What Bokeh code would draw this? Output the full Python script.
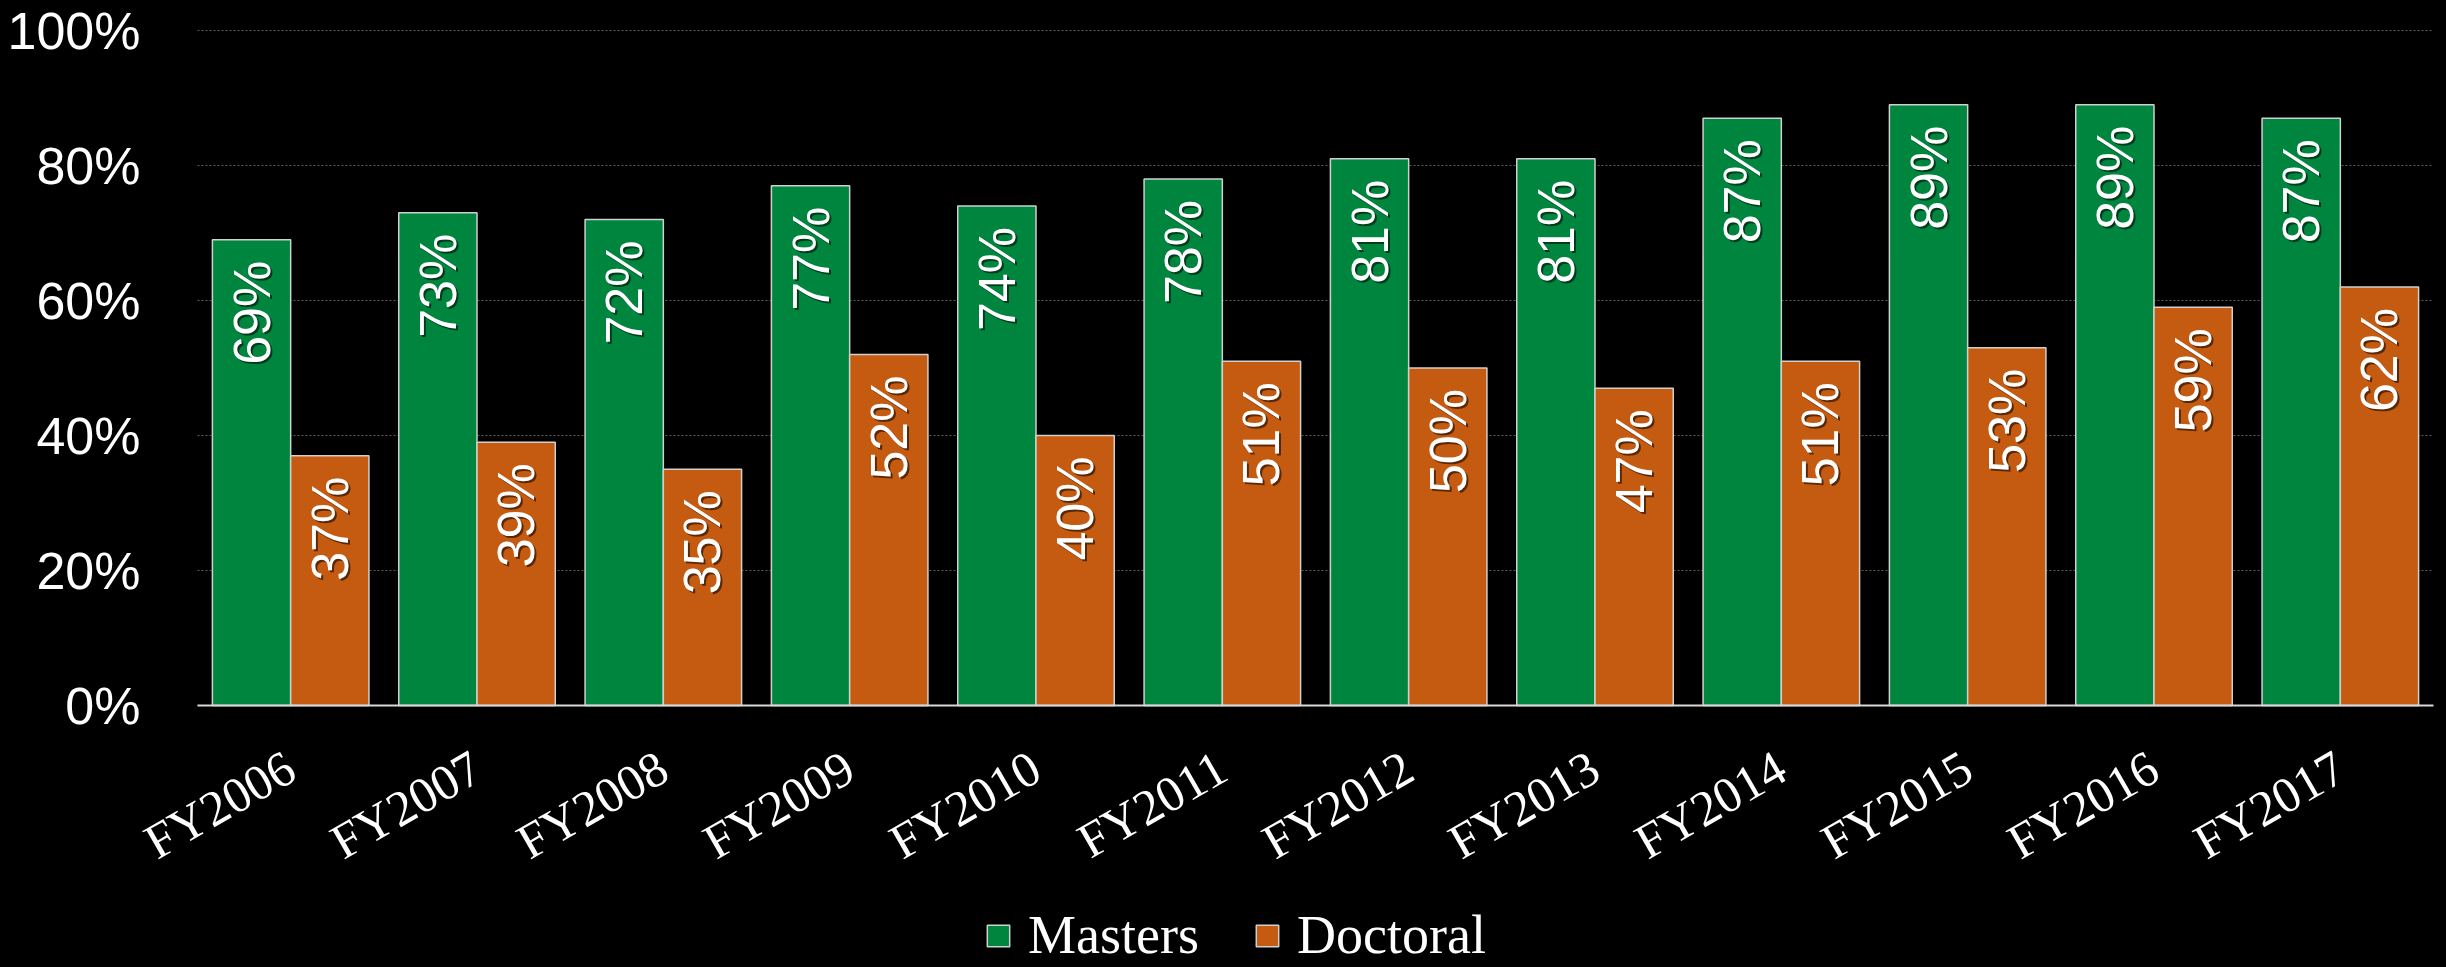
import math
from bokeh.plotting import figure
from bokeh.models import (ColumnDataSource, Range1d, Legend, LegendItem,
                          PrintfTickFormatter, FixedTicker)
from bokeh.transform import dodge
from bokeh.core.properties import value
from bokeh.embed import file_html
from bokeh.resources import INLINE

years = ["FY2006", "FY2007", "FY2008", "FY2009", "FY2010", "FY2011",
         "FY2012", "FY2013", "FY2014", "FY2015", "FY2016", "FY2017"]
masters = [69, 73, 72, 77, 74, 78, 81, 81, 87, 89, 89, 87]
doctoral = [37, 39, 35, 52, 40, 51, 50, 47, 51, 53, 59, 62]
y_ticks = [0, 20, 40, 60, 80, 100]

GREEN = "#00853F"
ORANGE = "#C55A11"

n = len(years)
idx = list(range(n))
src = ColumnDataSource(dict(
    idx=idx, year=years, masters=masters, doctoral=doctoral,
    m_lab=[f"{v}%" for v in masters], d_lab=[f"{v}%" for v in doctoral],
))

# layout: plot area from x=197..2433 px holds the n categories (-0.5 .. n-0.5),
# value axis 0..100 from y=705..30 px; the frame spans the whole canvas
W, H = 2446, 967
left_px, right_px, top_px, base_px = 197, 2433, 30, 705
ux = (right_px - left_px) / n
uy = (base_px - top_px) / 100.0
x_range = Range1d(-0.5 - left_px / ux, n - 0.5 + (W - right_px) / ux)
y_range = Range1d(-(H - base_px) / uy, 100 + top_px / uy)

p = figure(width=W, height=H, x_range=x_range, y_range=y_range,
           output_backend="svg", toolbar_location=None,
           min_border_left=0, min_border_right=0, min_border_top=0, min_border_bottom=0)
p.background_fill_color = "black"
p.border_fill_color = "black"
p.outline_line_color = "black"
p.outline_line_width = 3

rm = p.vbar(x=dodge("idx", -0.21), top="masters", width=0.42, source=src,
            fill_color=GREEN, line_color="#d0d0d0", line_width=1.5)
rd = p.vbar(x=dodge("idx", 0.21), top="doctoral", width=0.42, source=src,
            fill_color=ORANGE, line_color="#d0d0d0", line_width=1.5)

for col, lab, off in (("masters", "m_lab", -0.21), ("doctoral", "d_lab", 0.21)):
    p.text(x=dodge("idx", off), y=col, text=lab, source=src,
           angle=math.pi / 2, text_align="right", text_baseline="middle",
           x_offset=2, y_offset=23, text_color="black", text_alpha=0.55,
           text_font=value("Liberation Sans"), text_font_size="52px")
    p.text(x=dodge("idx", off), y=col, text=lab, source=src,
           angle=math.pi / 2, text_align="right", text_baseline="middle",
           x_offset=0, y_offset=21, text_color="white",
           text_font=value("Liberation Sans"), text_font_size="52px")

# grid
p.xgrid.grid_line_color = None
g = p.ygrid[0]
if "cross_bounds" in g.properties():
    g.ticker = FixedTicker(ticks=y_ticks)
    g.cross_bounds = (-0.5, n - 0.5)
    g.grid_line_color = "#5a5a5a"
    g.grid_line_dash = "2 2"
    g.grid_line_width = 1
else:
    g.grid_line_color = None
    p.segment(x0=[-0.5] * len(y_ticks), x1=[n - 0.5] * len(y_ticks), y0=y_ticks, y1=y_ticks,
              line_color="#5a5a5a", line_dash="2 2", line_width=1, level="underlay")

# y axis, pinned at the left edge of the plot area
p.yaxis.fixed_location = -0.5
p.yaxis.bounds = (0, 100)
p.yaxis.ticker = FixedTicker(ticks=y_ticks)
p.yaxis.formatter = PrintfTickFormatter(format="%d%%")
p.yaxis.axis_line_color = None
p.yaxis.major_tick_line_color = None
p.yaxis.minor_tick_line_color = None
p.yaxis.major_label_standoff = 51
p.yaxis.major_label_text_color = "white"
p.yaxis.major_label_text_font = "Liberation Sans"
p.yaxis.major_label_text_font_size = "52px"

# x axis, pinned at y = 0
p.xaxis.fixed_location = 0
p.xaxis.bounds = (-0.5, n - 0.5)
p.xaxis.ticker = FixedTicker(ticks=idx)
p.xaxis.major_label_overrides = {i: y for i, y in zip(idx, years)}
p.xaxis.axis_line_color = "#d9d9d9"
p.xaxis.axis_line_width = 2
p.xaxis.major_tick_line_color = None
p.xaxis.minor_tick_line_color = None
p.xaxis.major_label_orientation = math.radians(30)
p.xaxis.major_label_standoff = 52
p.xaxis.major_label_text_color = "white"
p.xaxis.major_label_text_font = "Liberation Serif"
p.xaxis.major_label_text_font_size = "50px"

legend = Legend(items=[LegendItem(label="Masters", renderers=[rm]),
                       LegendItem(label="Doctoral", renderers=[rd])],
                orientation="horizontal", location=(984, 1),
                padding=0, margin=0, spacing=54, label_standoff=16,
                glyph_width=28, glyph_height=27,
                border_line_color=None, background_fill_alpha=0,
                label_text_color="white", label_text_font="Liberation Serif",
                label_text_font_size="54px")
p.add_layout(legend, "center")

open("out.html", "w").write(file_html(p, INLINE))
